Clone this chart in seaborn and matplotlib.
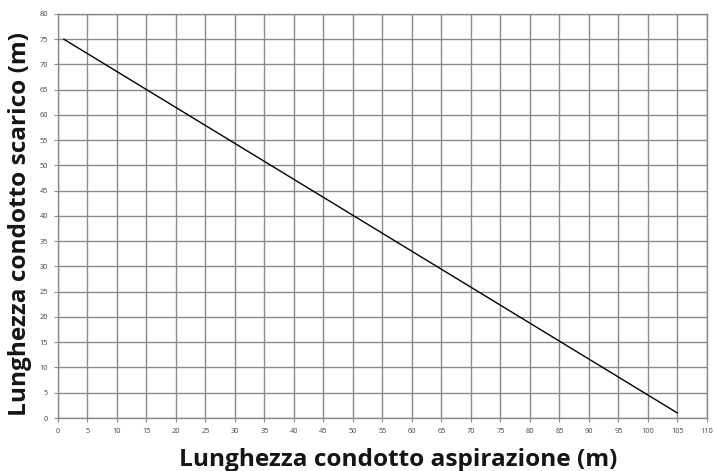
import matplotlib
matplotlib.use("Agg")
import matplotlib.pyplot as plt
import seaborn as sns
import pandas as pd

# Aspiration duct length vs maximum exhaust duct length
aspirazione = [1, 105]
scarico = [75, 1]
x_ticks = list(range(0, 115, 5))
y_ticks = list(range(0, 85, 5))

sns.set_theme(style="white")
plt.rcParams["font.family"] = ["Open Sans", "DejaVu Sans"]

df = pd.DataFrame({"aspirazione": aspirazione, "scarico": scarico})

fig = plt.figure(figsize=(7.14, 4.71), dpi=100)
ax = fig.add_axes([0.081, 0.1125, 0.909, 0.858])

sns.lineplot(data=df, x="aspirazione", y="scarico", ax=ax, color="black", linewidth=1.0)

ax.set_xlim(0, 110)
ax.set_ylim(0, 80)
ax.set_xticks(x_ticks)
ax.set_yticks(y_ticks)
ax.set_xticklabels([str(v) for v in x_ticks], fontsize=5.3, color="#444444")
ax.set_yticklabels([str(v) for v in y_ticks], fontsize=5.3, color="#444444")
ax.grid(True, color="#8a8a8a", linewidth=1.0)
ax.set_axisbelow(True)
ax.tick_params(axis="both", which="both", length=3, width=0.8, color="#8a8a8a",
               direction="out", bottom=True, left=True, pad=4)
for s in ax.spines.values():
    s.set_color("#8a8a8a")
    s.set_linewidth(1.0)

ax.set_xlabel("Lunghezza condotto aspirazione (m)", fontsize=17.6, fontweight="bold",
              color="#151515")
ax.set_ylabel("Lunghezza condotto scarico (m)", fontsize=17.6, fontweight="bold",
              color="#151515")
ax.xaxis.set_label_coords(0.524, -0.074)
ax.yaxis.set_label_coords(-0.040, 0.480)

fig.savefig("out.png", dpi=100)
